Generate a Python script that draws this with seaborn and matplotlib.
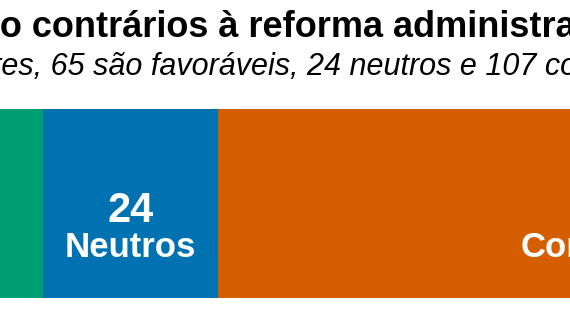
import matplotlib
matplotlib.use("Agg")
import matplotlib.pyplot as plt
import matplotlib.transforms as mtransforms
import seaborn as sns
import pandas as pd
import numpy as np

# ---- data ----
categories = ["Favoráveis", "Neutros", "Contrários"]
values = [65, 24, 107]
colors = ["#009E73", "#0072B2", "#D55E00"]
title = "Maioria dos deputados são contrários à reforma administrativa"
subtitle = "Dos 196 deputados respondentes, 65 são favoráveis, 24 neutros e 107 contrários"

sns.set_theme(style="white")
plt.rcParams['font.family'] = ['Liberation Sans', 'DejaVu Sans']

W, H, DPI = 570, 321, 100
fig = plt.figure(figsize=(W / DPI, H / DPI), dpi=DPI)
fig.patch.set_facecolor("white")

bar_top, bar_bot = 109, 298
ax = fig.add_axes([0, (H - bar_bot) / H, 1, (bar_bot - bar_top) / H])

starts = np.cumsum([0] + values[:-1])
ends = np.cumsum(values)
df = pd.DataFrame({"grupo": categories, "inicio": starts, "fim": ends,
                   "valor": values, "linha": ["Deputados"] * len(values)})

for i in reversed(range(len(categories))):
    sub = df.iloc[[i]]
    sns.barplot(data=sub, x="fim", y="linha", color=colors[i], width=1.0,
                ax=ax, orient="h", saturation=1, edgecolor="none", linewidth=0)

# visible window of the (cropped) chart
px_per_unit = 175 / values[1]
left = ends[0] - 43 / px_per_unit
ax.set_xlim(left, left + W / px_per_unit)
ax.set_ylim(0.5, -0.5)
ax.axis("off")

tr = mtransforms.blended_transform_factory(ax.transData, ax.transAxes)
for s, v, c in zip(starts, values, categories):
    cx = s + v / 2
    ax.text(cx, 0.402, str(v), transform=tr, ha="center", va="baseline",
            fontsize=30, fontweight="bold", color="white", clip_on=False)
    ax.text(cx, 0.217, c, transform=tr, ha="center", va="baseline",
            fontsize=25, fontweight="bold", color="white", clip_on=False)

# title and subtitle, positioned so that the crop matches
renderer = fig.canvas.get_renderer()

def place(text, prefix, target_px, baseline_px, **kw):
    t = fig.text(0, 0, prefix, **kw)
    w = t.get_window_extent(renderer).width
    t.remove()
    fig.text((target_px - w) / W, 1 - baseline_px / H, text, ha="left",
             va="baseline", **kw)

place(title, "Maioria dos deputados sã", 0.0, 37,
      fontsize=26, fontweight="bold", color="black")
place(subtitle, "Dos 196 deputados respondent", 1.5, 75,
      fontsize=22, fontstyle="italic", color="black")

fig.savefig("out.png", dpi=DPI)
